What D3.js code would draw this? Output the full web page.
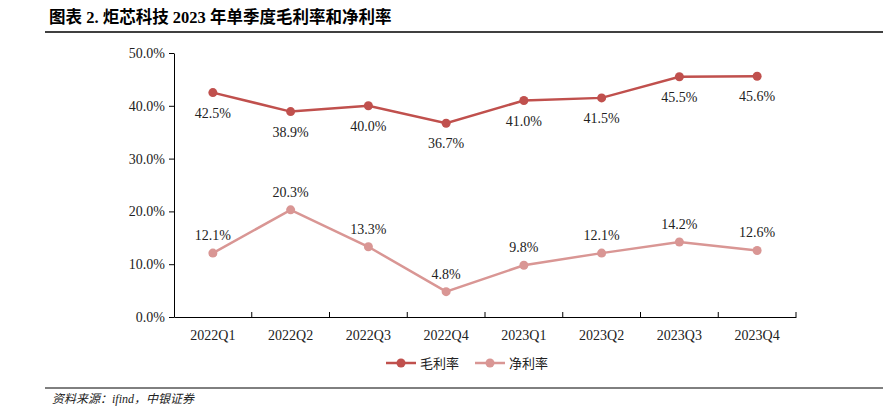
<!DOCTYPE html>
<meta charset="utf-8">
<style>
body { margin: 0; background: #fff; }
svg { font-family: "Liberation Serif", "Noto Sans CJK SC", serif; }
.title { font-weight: bold; font-size: 16.5px; fill: #000; }
.val { font-size: 14px; fill: #222; }
.axis text { font-size: 14px; fill: #222; font-family: "Liberation Serif", serif; }
.axis path, .axis line { stroke: #000; }
.src { font-size: 12px; font-style: italic; fill: #222; }
</style>
<body>
<script src="https://cdn.jsdelivr.net/npm/d3@7"></script>
<script>
var quarters = ["2022Q1","2022Q2","2022Q3","2022Q4","2023Q1","2023Q2","2023Q3","2023Q4"];
var grossMargin = [42.5, 38.9, 40.0, 36.7, 41.0, 41.5, 45.5, 45.6];
var netMargin = [12.1, 20.3, 13.3, 4.8, 9.8, 12.1, 14.2, 12.6];
var yTicks = [0, 10, 20, 30, 40, 50];
var seriesNames = ["毛利率", "净利率"];
var colors = ["#C0504D", "#D99694"];

var width = 883, height = 408;
var svg = d3.select("body").append("svg").attr("width", width).attr("height", height);

// header
svg.append("text").attr("class", "title").attr("x", 49).attr("y", 23)
  .text("图表 2. 炬芯科技 2023 年单季度毛利率和净利率");
svg.append("line").attr("x1", 45).attr("x2", 883).attr("y1", 32).attr("y2", 32)
  .attr("stroke", "#000").attr("stroke-width", 1.3);

var x = d3.scaleBand().domain(quarters).range([174, 796]);
var y = d3.scaleLinear().domain([0, 50]).range([317, 53]);

svg.append("g").attr("class", "axis").attr("transform", "translate(0,317)")
  .call(d3.axisBottom(x).tickSize(0).tickSizeOuter(0).tickPadding(13));
// tick marks between categories
svg.append("g").selectAll("line").data(quarters).enter()
  .append("line")
  .attr("x1", function(d, i) { return 174 + x.step() * (i + 1); })
  .attr("x2", function(d, i) { return 174 + x.step() * (i + 1); })
  .attr("y1", 317).attr("y2", 312).attr("stroke", "#000");

svg.append("g").attr("class", "axis").attr("transform", "translate(174,0)")
  .call(d3.axisLeft(y).tickValues(yTicks).tickSize(5).tickSizeOuter(0).tickPadding(4)
    .tickFormat(function(d) { return d.toFixed(1) + "%"; }));

var line = d3.line()
  .x(function(d, i) { return x(quarters[i]) + x.bandwidth() / 2; })
  .y(function(d) { return y(d); });

[grossMargin, netMargin].forEach(function(data, s) {
  var g = svg.append("g");
  g.append("path").datum(data).attr("d", line).attr("fill", "none")
    .attr("stroke", colors[s]).attr("stroke-width", 2.5);
  g.selectAll("circle").data(data).enter().append("circle")
    .attr("cx", function(d, i) { return x(quarters[i]) + x.bandwidth() / 2; })
    .attr("cy", function(d) { return y(d); })
    .attr("r", 4.5).attr("fill", colors[s]);
  g.selectAll("text").data(data).enter().append("text").attr("class", "val")
    .attr("text-anchor", "middle")
    .attr("x", function(d, i) { return x(quarters[i]) + x.bandwidth() / 2; })
    .attr("y", function(d) { return s === 0 ? y(d) + 25 : y(d) - 13; })
    .text(function(d) { return d.toFixed(1) + "%"; });
});

// legend
var leg = svg.append("g").selectAll("g").data(seriesNames).enter().append("g")
  .attr("transform", function(d, i) { return "translate(" + (386 + i * 89) + ",363)"; });
leg.append("line").attr("x1", 0).attr("x2", 30).attr("stroke", function(d, i) { return colors[i]; })
  .attr("stroke-width", 2.5);
leg.append("circle").attr("cx", 15).attr("r", 4.5).attr("fill", function(d, i) { return colors[i]; });
leg.append("text").attr("x", 34).attr("y", 5).style("font-size", "13px")
  .style("font-family", "'Noto Sans CJK SC'").attr("fill", "#222").text(function(d) { return d; });

// footer
svg.append("line").attr("x1", 45).attr("x2", 883).attr("y1", 388).attr("y2", 388)
  .attr("stroke", "#000").attr("stroke-width", 1);
svg.append("text").attr("class", "src").attr("x", 52).attr("y", 403)
  .text("资料来源：ifind，中银证券");
</script>
</body>
